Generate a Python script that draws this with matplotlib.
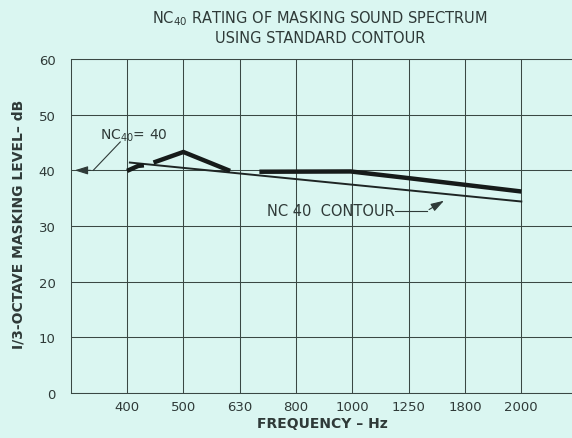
import matplotlib
matplotlib.use("Agg")
import matplotlib.pyplot as plt

plt.rcParams["font.family"] = ["DejaVu Sans"]
plt.rcParams["mathtext.default"] = "regular"

# 1/3-octave bands on the x axis (band index 1..8)
bands = ["400", "500", "630", "800", "1000", "1250", "1800", "2000"]
band_pos = [1, 2, 3, 4, 5, 6, 7, 8]
levels = [0, 10, 20, 30, 40, 50, 60]

# measured masking spectrum, drawn as three broken pieces (band index, dB)
spec_a_x = [1.0, 1.2, 1.3]
spec_a_y = [39.9, 40.8, 40.9]
spec_b_x = [1.47, 2.0, 2.83]
spec_b_y = [41.4, 43.3, 39.9]
spec_c_x = [3.35, 4.97, 6.0, 7.0, 8.0]
spec_c_y = [39.75, 39.8, 38.6, 37.4, 36.2]

# NC 40 contour
nc_x = [1.05, 8.0]
nc_y = [41.4, 34.4]

bg = "#daf6f1"
ink = "#2f3a38"
grid_c = "#3a4844"

fig = plt.figure(figsize=(5.72, 4.39), dpi=100, facecolor=bg)
ax = fig.add_axes([0.1236, 0.1025, 0.8764, 0.7608], facecolor=bg)

ax.set_xlim(0, 8.9)
ax.set_ylim(0, 60)
ax.set_xticks(band_pos)
ax.set_xticklabels(bands)
ax.set_yticks(levels)
ax.tick_params(length=0, labelsize=9.5, colors=ink, pad=5)
ax.tick_params(axis="y", pad=11)
ax.grid(True, color=grid_c, linewidth=0.75)
ax.set_axisbelow(True)
for side in ["left", "bottom", "top"]:
    ax.spines[side].set_color(grid_c)
    ax.spines[side].set_linewidth(0.75)
ax.spines["right"].set_visible(False)

# spectrum and contour
for xs, ys in [(spec_a_x, spec_a_y), (spec_b_x, spec_b_y), (spec_c_x, spec_c_y)]:
    ax.plot(xs, ys, color="#161b1a", linewidth=3.2, solid_capstyle="butt", zorder=4)
ax.plot(nc_x, nc_y, color="#1e2524", linewidth=1.4, zorder=3)

# NC40 = 40 callout
ax.text(0.52, 46.3, r"NC$_{40}$= 40", fontsize=10, color=ink, va="center")
ax.plot([0.40, 0.88], [40, 45.1], color=ink, linewidth=0.8)
ax.annotate("", xy=(0.02, 40), xytext=(0.40, 40),
            arrowprops=dict(arrowstyle="-|>,head_length=0.8,head_width=0.25",
                            color=ink, lw=0.8))

# NC 40 contour callout
ax.text(3.49, 32.7, "NC 40  CONTOUR", fontsize=10.5, color=ink, va="center")
ax.plot([5.76, 6.32], [32.7, 32.7], color=ink, linewidth=0.8)
ax.annotate("", xy=(6.67, 34.8), xytext=(6.32, 32.7),
            arrowprops=dict(arrowstyle="-|>,head_length=0.8,head_width=0.25",
                            color=ink, lw=0.8))

fig.text(0.56, 0.958, r"NC$_{40}$ RATING OF MASKING SOUND SPECTRUM",
         ha="center", va="center", fontsize=10.5, color=ink)
fig.text(0.56, 0.913, "USING STANDARD CONTOUR",
         ha="center", va="center", fontsize=10.5, color=ink)
fig.text(0.563, 0.034, "FREQUENCY – Hz", ha="center", va="center",
         fontsize=10, fontweight="bold", color=ink)
fig.text(0.032, 0.49, "I/3-OCTAVE MASKING LEVEL– dB", ha="center", va="center",
         rotation=90, fontsize=10, fontweight="bold", color=ink)

fig.savefig("out.png", dpi=100, facecolor=bg)
